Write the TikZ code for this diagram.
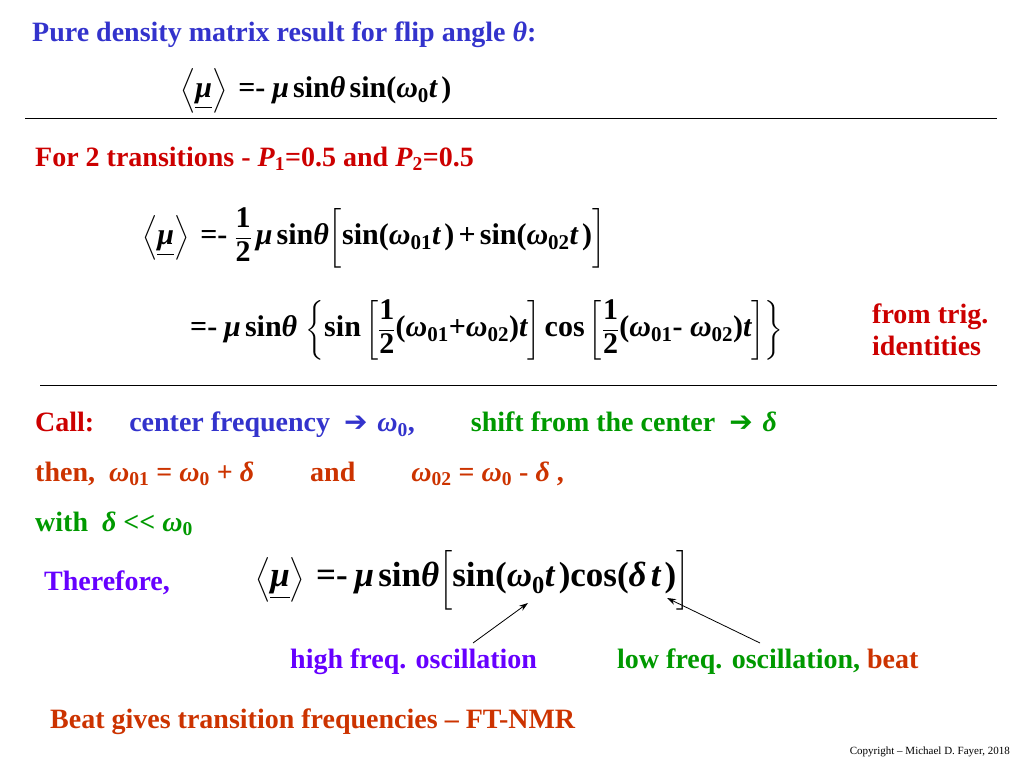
\documentclass[tikz,border=0pt]{standalone}
\usepackage{amsmath}
\usepackage{fontspec}
\setmainfont{Liberation Serif}
\usetikzlibrary{arrows.meta}
\definecolor{tblue}{RGB}{51,51,204}
\definecolor{tred}{RGB}{204,0,0}
\definecolor{torange}{RGB}{204,51,0}
\definecolor{tgreen}{RGB}{0,153,0}
\definecolor{tpurple}{RGB}{102,0,255}
\newcommand\gmu{\text{\bfseries\itshape μ}}
\newcommand\gth{\text{\bfseries\itshape θ}}
\newcommand\gom{\text{\bfseries\itshape ω}}
\newcommand\gde{\text{\bfseries\itshape δ}}
\newcommand\tb[1]{\text{\bfseries #1}}
\newcommand\ti[1]{\text{\bfseries\itshape #1}}
\newcommand\eqs{\;\tb{=-}\;}
\begin{document}
\begin{tikzpicture}[x=1pt,y=-1pt,
  txt/.style={anchor=west,inner sep=0pt,font=\bfseries\fontsize{28}{32}\selectfont},
  eq/.style={anchor=west,inner sep=0pt,font=\bfseries\fontsize{30}{34}\selectfont},
  arr/.style={-{Stealth[length=9pt,width=6pt]},line width=0.8pt}]
\useasboundingbox (0,0) rectangle (1024,768);
\node[txt,text=tblue] (t1) at (32,35) {Pure density matrix result for flip angle \textit{θ}:};
\node[eq] (e1) at (180,91) {$\left\langle\underline{\gmu}\right\rangle\eqs\gmu\,\tb{sin}\gth\,\tb{sin(}\gom_{\tb{0}}\ti{t}\,\tb{)}$};
\draw[line width=0.6pt] (25,118) coordinate (r1a) -- (997,118) coordinate (r1b);
\node[txt,text=tred] (t2) at (35,159) {For 2 transitions - \textit{P}\textsubscript{1}=0.5 and \textit{P}\textsubscript{2}=0.5};
\node[eq] (e2) at (142,238) {$\left\langle\underline{\gmu}\right\rangle\eqs\dfrac{\tb{1}}{\tb{2}}\,\gmu\,\tb{sin}\gth\bigg[\tb{sin(}\gom_{\tb{01}}\ti{t}\,\tb{)}\,\tb{+}\,\tb{sin(}\gom_{\tb{02}}\ti{t}\,\tb{)}\bigg]$};
\node[eq] (e3) at (190,330) {$\tb{=-}\;\gmu\,\tb{sin}\gth\,\left\{\tb{sin}\left[\dfrac{\tb{1}}{\tb{2}}\tb{(}\gom_{\tb{01}}\tb{+}\gom_{\tb{02}}\tb{)}\ti{t}\right]\tb{cos}\left[\dfrac{\tb{1}}{\tb{2}}\tb{(}\gom_{\tb{01}}\tb{-}\ \gom_{\tb{02}}\tb{)}\ti{t}\right]\right\}$};
\node[txt,text=tred,align=left] (t3) at (872,330) {from trig.\\identities};
\draw[line width=0.6pt] (40,385) coordinate (r2a) -- (997,385) coordinate (r2b);
\node[txt] (t4) at (35,425) {\textcolor{tred}{Call:}\quad\ \textcolor{tblue}{center frequency \ \fontspec{DejaVu Sans}➔\ \fontspec{Liberation Serif}\textit{ω}\textsubscript{0},}\qquad\textcolor{tgreen}{shift from the center \ \fontspec{DejaVu Sans}➔\ \fontspec{Liberation Serif}\textit{δ}}};
\node[txt,text=torange] (t5) at (35,474) {then,\ \ \textit{ω}\textsubscript{01} = \textit{ω}\textsubscript{0} + \textit{δ}\qquad and\qquad \textit{ω}\textsubscript{02} = \textit{ω}\textsubscript{0} - \textit{δ} ,};
\node[txt,text=tgreen] (t6) at (35,524) {with\ \ \textit{δ} <{}< \textit{ω}\textsubscript{0}};
\node[txt,text=tpurple] (t7) at (44,583) {Therefore,};
\node[eq,font=\bfseries\fontsize{35}{39}\selectfont] (e4) at (255,580) {$\left\langle\underline{\gmu}\right\rangle\eqs\gmu\,\tb{sin}\gth\bigg[\tb{sin(}\gom_{\tb{0}}\ti{t}\,\tb{)}\tb{cos(}\gde\,\ti{t}\,\tb{)}\bigg]$};
\node[txt,text=tpurple] (t8) at (290,662) {high freq. oscillation};
\node[txt] (t9) at (617,662) {\textcolor{tgreen}{low freq. oscillation,} \textcolor{torange}{beat}};
\coordinate (h1) at (473,643); \coordinate (h2) at (528,603);
\coordinate (l1) at (760,643); \coordinate (l2) at (667,598);
\draw[arr] (h1) -- (h2);
\draw[arr] (l1) -- (l2);
\node[txt,text=torange] (t10) at (50,722) {Beat gives transition frequencies – FT-NMR};
\node[anchor=east,inner sep=0pt,font=\fontsize{11}{12}\selectfont] (c) at (1010,752) {Copyright – Michael D. Fayer, 2018};
\end{tikzpicture}
\end{document}
